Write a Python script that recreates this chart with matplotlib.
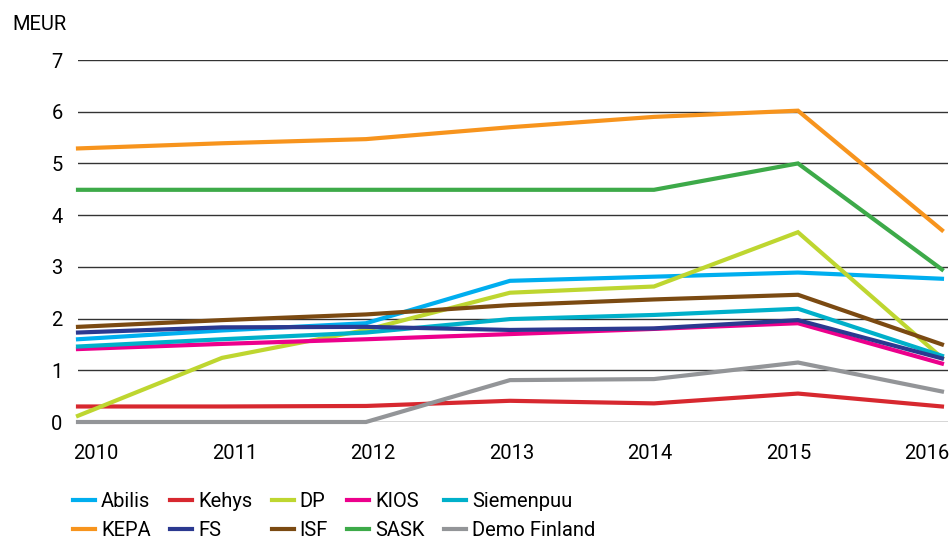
import numpy as np
import matplotlib
matplotlib.use("Agg")
import matplotlib.pyplot as plt

plt.rcParams['font.family'] = ['Roboto', 'DejaVu Sans']

# data (MEUR)
years = [2010, 2011, 2012, 2013, 2014, 2015, 2016]
abilis = [1.60, 1.77, 1.91, 2.73, 2.81, 2.89, 2.77]
kehys = [0.30, 0.30, 0.31, 0.41, 0.36, 0.55, 0.30]
dp = [0.12, 1.24, 1.78, 2.50, 2.62, 3.67, 1.24]
kios = [1.41, 1.51, 1.60, 1.70, 1.80, 1.91, 1.13]
siemenpuu = [1.46, 1.60, 1.73, 1.99, 2.07, 2.19, 1.28]
kepa = [5.29, 5.39, 5.47, 5.70, 5.90, 6.02, 3.71]
fs = [1.73, 1.83, 1.84, 1.78, 1.81, 1.97, 1.23]
isf = [1.84, 1.97, 2.08, 2.26, 2.37, 2.46, 1.50]
sask = [4.49, 4.49, 4.49, 4.49, 4.49, 5.00, 2.95]
demo = [0.0, 0.0, 0.0, 0.81, 0.83, 1.15, 0.59]

series = [
    ("Abilis", abilis, "#00aeef"),
    ("Kehys", kehys, "#d7282f"),
    ("DP", dp, "#bed630"),
    ("KIOS", kios, "#ec008c"),
    ("Siemenpuu", siemenpuu, "#00b0ca"),
    ("KEPA", kepa, "#f7941d"),
    ("FS", fs, "#2b3990"),
    ("ISF", isf, "#7b4a12"),
    ("SASK", sask, "#3daa49"),
    ("Demo Finland", demo, "#939598"),
]

W, H = 951, 545
fig = plt.figure(figsize=(W / 100, H / 100), dpi=100)
ax = fig.add_axes([78 / W, 1 - 422 / H, 870 / W, 362 / H])

for y in range(0, 8):
    ax.axhline(y, color="#333333", lw=1.0, zorder=1)

lines = {}
for name, vals, col in series:
    ln, = ax.plot(years, vals, color=col, lw=3.0, solid_joinstyle="miter",
                  clip_on=False, zorder=2, label=name)
    lines[name] = ln

ax.set_xlim(2010, 2016.042)
ax.set_ylim(0, 7)
ax.set_yticks(range(0, 8))
ax.set_yticklabels([str(v) for v in range(0, 8)], fontsize=14.5)
# x labels sit on their own even spacing in the original
ax.set_xticks(np.linspace(2010.125, 2015.896, 7))
ax.set_xticklabels([str(y) for y in years], fontsize=14.5)
ax.tick_params(axis="y", length=0, pad=11)
ax.tick_params(axis="x", length=0, pad=16)
for s in ax.spines.values():
    s.set_visible(False)

fig.text(12 / W, 1 - 25 / H, "MEUR", fontsize=14.5, va="center", ha="left")

order = ["Abilis", "KEPA", "Kehys", "FS", "DP", "ISF", "KIOS", "SASK",
         "Siemenpuu", "Demo Finland"]
fig.legend([lines[n] for n in order], order, ncol=5, frameon=False,
           loc="upper left", bbox_to_anchor=(73 / W, 1 - 492 / H),
           borderpad=0, borderaxespad=0, fontsize=14.5, handlelength=1.1,
           handletextpad=0.3, columnspacing=0.95, labelspacing=0.5)

fig.savefig("out.png", dpi=100)
